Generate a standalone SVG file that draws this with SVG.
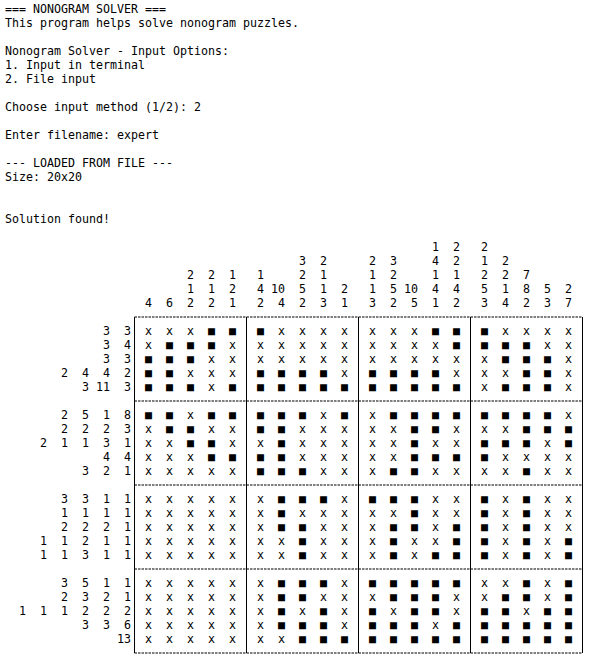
<svg xmlns="http://www.w3.org/2000/svg" width="614" height="668" viewBox="0 0 614 668">
<style>
.t{font-family:"DejaVu Sans Mono","Liberation Mono",monospace;font-size:11.63px;fill:#000}
.c{text-anchor:middle}
.h{stroke:#555;stroke-width:1.4;stroke-dasharray:2.5 1}
.v{stroke:#000;stroke-width:1}
</style>
<rect width="614" height="668" fill="#fff"/>
<g id="terminal-text" class="t" xml:space="preserve">
<text x="5" y="13">=== NONOGRAM SOLVER ===</text>
<text x="5" y="27">This program helps solve nonogram puzzles.</text>
<text x="5" y="55">Nonogram Solver - Input Options:</text>
<text x="5" y="69">1. Input in terminal</text>
<text x="5" y="83">2. File input</text>
<text x="5" y="111">Choose input method (1/2): 2</text>
<text x="5" y="139">Enter filename: expert</text>
<text x="5" y="167">--- LOADED FROM FILE ---</text>
<text x="5" y="181">Size: 20x20</text>
<text x="5" y="223">Solution found!</text>
</g>
<g id="column-clues" class="t c">
<text x="435.5 456.5 484.5" y="251">122</text>
<text x="302.5 323.5 372.5 393.5 435.5 456.5 484.5 505.5" y="265">32234212</text>
<text x="190.5 211.5 232.5 260.5 302.5 323.5 372.5 393.5 435.5 456.5 484.5 505.5 526.5" y="279">2211211211227</text>
<text x="190.5 211.5 232.5 260.5 274.5 281.5 302.5 323.5 344.5 372.5 393.5 407.5 414.5 435.5 456.5 484.5 505.5 526.5 547.5 568.5" y="293">11241051215104451852</text>
<text x="148.5 169.5 190.5 211.5 232.5 260.5 281.5 302.5 323.5 344.5 372.5 393.5 414.5 435.5 456.5 484.5 505.5 526.5 547.5 568.5" y="307">46221242313251234237</text>
</g>
<g id="row-clues" class="t c">
<text x="106.5 127.5" y="335">33</text>
<text x="106.5 127.5" y="349">34</text>
<text x="106.5 127.5" y="363">33</text>
<text x="64.5 85.5 106.5 127.5" y="377">2442</text>
<text x="85.5 99.5 106.5 127.5" y="391">3113</text>
<text x="64.5 85.5 106.5 127.5" y="419">2518</text>
<text x="64.5 85.5 106.5 127.5" y="433">2223</text>
<text x="43.5 64.5 85.5 106.5 127.5" y="447">21131</text>
<text x="106.5 127.5" y="461">44</text>
<text x="85.5 106.5 127.5" y="475">321</text>
<text x="64.5 85.5 106.5 127.5" y="503">3311</text>
<text x="64.5 85.5 106.5 127.5" y="517">1111</text>
<text x="64.5 85.5 106.5 127.5" y="531">2221</text>
<text x="43.5 64.5 85.5 106.5 127.5" y="545">11211</text>
<text x="43.5 64.5 85.5 106.5 127.5" y="559">11311</text>
<text x="64.5 85.5 106.5 127.5" y="587">3511</text>
<text x="64.5 85.5 106.5 127.5" y="601">2321</text>
<text x="22.5 43.5 64.5 85.5 106.5 127.5" y="615">111222</text>
<text x="85.5 106.5 127.5" y="629">336</text>
<text x="120.5 127.5" y="643">13</text>
</g>
<g id="grid-lines">
<line class="h" x1="134.5" y1="317" x2="582.5" y2="317"/>
<line class="h" x1="134.5" y1="401" x2="582.5" y2="401"/>
<line class="h" x1="134.5" y1="485" x2="582.5" y2="485"/>
<line class="h" x1="134.5" y1="569" x2="582.5" y2="569"/>
<line class="h" x1="134.5" y1="653" x2="582.5" y2="653"/>
<line class="v" x1="134.5" y1="317" x2="134.5" y2="653"/>
<line class="v" x1="246.5" y1="317" x2="246.5" y2="653"/>
<line class="v" x1="358.5" y1="317" x2="358.5" y2="653"/>
<line class="v" x1="470.5" y1="317" x2="470.5" y2="653"/>
<line class="v" x1="582.5" y1="317" x2="582.5" y2="653"/>
</g>
<g id="cells" class="t c">
<text x="148.5 169.5 190.5 211.5 232.5 260.5 281.5 302.5 323.5 344.5 372.5 393.5 414.5 435.5 456.5 484.5 505.5 526.5 547.5 568.5" y="335">xxx■■■xxxxxxx■■■xxxx</text>
<text x="148.5 169.5 190.5 211.5 232.5 260.5 281.5 302.5 323.5 344.5 372.5 393.5 414.5 435.5 456.5 484.5 505.5 526.5 547.5 568.5" y="349">x■■■xxxxxxxxxx■■■■xx</text>
<text x="148.5 169.5 190.5 211.5 232.5 260.5 281.5 302.5 323.5 344.5 372.5 393.5 414.5 435.5 456.5 484.5 505.5 526.5 547.5 568.5" y="363">■■■xxxxxxxxxxxxx■■■x</text>
<text x="148.5 169.5 190.5 211.5 232.5 260.5 281.5 302.5 323.5 344.5 372.5 393.5 414.5 435.5 456.5 484.5 505.5 526.5 547.5 568.5" y="377">■■xxx■■■■x■■■■xxx■■x</text>
<text x="148.5 169.5 190.5 211.5 232.5 260.5 281.5 302.5 323.5 344.5 372.5 393.5 414.5 435.5 456.5 484.5 505.5 526.5 547.5 568.5" y="391">■■■x■■■■■■■■■■■x■■■x</text>
<text x="148.5 169.5 190.5 211.5 232.5 260.5 281.5 302.5 323.5 344.5 372.5 393.5 414.5 435.5 456.5 484.5 505.5 526.5 547.5 568.5" y="419">■■x■■■■■x■x■■■■■■■■x</text>
<text x="148.5 169.5 190.5 211.5 232.5 260.5 281.5 302.5 323.5 344.5 372.5 393.5 414.5 435.5 456.5 484.5 505.5 526.5 547.5 568.5" y="433">x■■xx■■xxxxx■■xxx■■■</text>
<text x="148.5 169.5 190.5 211.5 232.5 260.5 281.5 302.5 323.5 344.5 372.5 393.5 414.5 435.5 456.5 484.5 505.5 526.5 547.5 568.5" y="447">xx■■xx■xxxxx■xx■■■x■</text>
<text x="148.5 169.5 190.5 211.5 232.5 260.5 281.5 302.5 323.5 344.5 372.5 393.5 414.5 435.5 456.5 484.5 505.5 526.5 547.5 568.5" y="461">xxx■■■■xxxxx■■■■xxxx</text>
<text x="148.5 169.5 190.5 211.5 232.5 260.5 281.5 302.5 323.5 344.5 372.5 393.5 414.5 435.5 456.5 484.5 505.5 526.5 547.5 568.5" y="475">xxxxx■■■xxx■■xxxx■xx</text>
<text x="148.5 169.5 190.5 211.5 232.5 260.5 281.5 302.5 323.5 344.5 372.5 393.5 414.5 435.5 456.5 484.5 505.5 526.5 547.5 568.5" y="503">xxxxxx■■■x■■■xx■x■xx</text>
<text x="148.5 169.5 190.5 211.5 232.5 260.5 281.5 302.5 323.5 344.5 372.5 393.5 414.5 435.5 456.5 484.5 505.5 526.5 547.5 568.5" y="517">xxxxxx■xxxxx■xx■x■xx</text>
<text x="148.5 169.5 190.5 211.5 232.5 260.5 281.5 302.5 323.5 344.5 372.5 393.5 414.5 435.5 456.5 484.5 505.5 526.5 547.5 568.5" y="531">xxxxxx■■xxx■■x■■x■xx</text>
<text x="148.5 169.5 190.5 211.5 232.5 260.5 281.5 302.5 323.5 344.5 372.5 393.5 414.5 435.5 456.5 484.5 505.5 526.5 547.5 568.5" y="545">xxxxxxx■xxx■xx■■x■x■</text>
<text x="148.5 169.5 190.5 211.5 232.5 260.5 281.5 302.5 323.5 344.5 372.5 393.5 414.5 435.5 456.5 484.5 505.5 526.5 547.5 568.5" y="559">xxxxxxx■xxx■x■■■x■x■</text>
<text x="148.5 169.5 190.5 211.5 232.5 260.5 281.5 302.5 323.5 344.5 372.5 393.5 414.5 435.5 456.5 484.5 505.5 526.5 547.5 568.5" y="587">xxxxxx■■■x■■■■■xx■x■</text>
<text x="148.5 169.5 190.5 211.5 232.5 260.5 281.5 302.5 323.5 344.5 372.5 393.5 414.5 435.5 456.5 484.5 505.5 526.5 547.5 568.5" y="601">xxxxxx■■xxx■■■xx■■x■</text>
<text x="148.5 169.5 190.5 211.5 232.5 260.5 281.5 302.5 323.5 344.5 372.5 393.5 414.5 435.5 456.5 484.5 505.5 526.5 547.5 568.5" y="615">xxxxxx■x■x■x■■x■■x■■</text>
<text x="148.5 169.5 190.5 211.5 232.5 260.5 281.5 302.5 323.5 344.5 372.5 393.5 414.5 435.5 456.5 484.5 505.5 526.5 547.5 568.5" y="629">xxxxxx■■■x■■■x■■■■■■</text>
<text x="148.5 169.5 190.5 211.5 232.5 260.5 281.5 302.5 323.5 344.5 372.5 393.5 414.5 435.5 456.5 484.5 505.5 526.5 547.5 568.5" y="643">xxxxxxx■■■■■■■■■■■■■</text>
</g>
</svg>
